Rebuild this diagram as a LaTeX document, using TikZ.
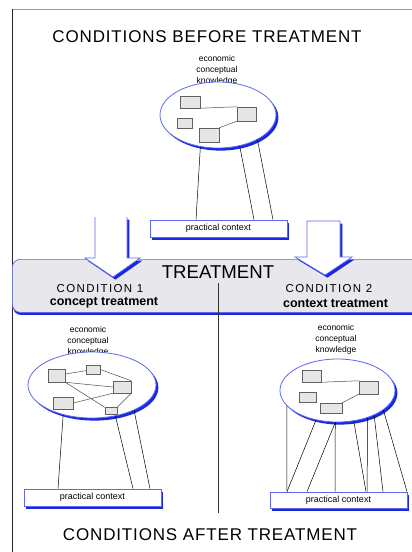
\documentclass[tikz,border=0pt]{standalone}
\usepackage{fontspec}
\setmainfont{Liberation Sans}
\newfontfamily\headfont[LetterSpace=5]{Liberation Sans}
\newfontfamily\condfont[LetterSpace=12]{Liberation Sans}
\usetikzlibrary{shapes.geometric,shadows}
\definecolor{rimblue}{RGB}{95,105,235}
\definecolor{shadeblue}{RGB}{25,40,225}
\definecolor{bandgray}{RGB}{232,231,236}
\definecolor{boxgray}{RGB}{230,230,230}
\begin{document}
\begin{tikzpicture}[
                        x=1pt, y=-1pt,
                        node distance=14pt,
                        blueshadow/.style={drop shadow={shadow xshift=2.4pt, shadow yshift=-2.6pt, fill=shadeblue, opacity=1}},
                        knowledge/.style={ellipse, draw=rimblue, fill=white, line width=0.8pt, inner sep=0pt, blueshadow},
                        concept/.style={rectangle, draw=gray!75!black, fill=boxgray, line width=0.5pt, inner sep=0pt},
                        ctxbox/.style={rectangle, draw=rimblue, fill=white, line width=0.7pt, inner sep=0pt, minimum width=137pt, font=\fontsize{9}{10}\selectfont, blueshadow},
                        knowtext/.style={align=center, inner sep=0pt, font=\fontsize{8.5}{10.8}\selectfont},
                        blockarrow/.style={draw=rimblue, fill=white, line width=0.7pt, line join=miter, blueshadow},
                        band/.style={rectangle, rounded corners=8pt, draw=rimblue, fill=bandgray, line width=0.7pt, inner sep=0pt, drop shadow={shadow xshift=0.8pt, shadow yshift=-2.6pt, fill=shadeblue, opacity=1}},
                        heading/.style={inner sep=0pt, font=\headfont\fontsize{17}{20}\selectfont},
                        condtitle/.style={inner sep=0pt, font=\condfont\fontsize{11.5}{13}\selectfont},
                        condsub/.style={inner sep=0pt, font=\bfseries\fontsize{12.5}{14}\selectfont},
                        link/.style={draw=black, line width=0.5pt},
                        tie/.style={draw=gray!60!black, line width=0.5pt}
                    ]
                    \clip (0,0) rectangle (412,552);
                    \fill[white] (0,0) rectangle (412,552);
                    % Frame
                    \draw[gray!80, line width=0.8pt] (12,9) -- (412,9);
                    \draw[black!85, line width=0.9pt] (12,9) -- (12,552);

                    % Before treatment
                    \node [heading] (before) at (207,37) {CONDITIONS BEFORE TREATMENT};
                    \node [knowtext] (kbtext) at (217,70.5) {economic\\conceptual\\knowledge};
                    \node [knowledge, minimum width=116pt, minimum height=66pt] (kb) at (218,115) {};
                    \node [concept, minimum width=20pt, minimum height=12pt] (b1) at (190,102) {};
                    \node [concept, minimum width=19pt, minimum height=14pt] (b2) at (246.5,114) {};
                    \node [concept, minimum width=15pt, minimum height=10pt] (b3) at (184.5,123) {};
                    \node [concept, minimum width=20pt, minimum height=14pt] (b4) at (209,135) {};
                    \node [ctxbox, minimum height=17pt] (cb) at (218.5,228.5) {practical context};

                    \draw [tie] (b1.south east) -- (b2.north west);
                    \draw [tie] (b4.north east) -- (b2.south west);
                    \draw [link] (kb.-119) -- ([xshift=-22.5pt]cb.north);
                    \draw [link] (kb.-55) -- ([xshift=35.5pt]cb.north);
                    \draw [link] (kb.-32) -- ([xshift=54.5pt]cb.north);

                    % Treatment
                    \node [band, anchor=north west, minimum width=420pt, minimum height=53pt] (treat) at (12,259) {};
                    \draw [blockarrow] (95,217) -- (95,258) -- (85,258) -- (113,277) -- (140,258) -- (127,258) -- (127,217);
                    \draw [blockarrow] (307,221) -- (307,257) -- (295,257) -- (325,275) -- (352,257) -- (340,257) -- (340,221) -- cycle;
                    \node [inner sep=0pt, font=\fontsize{18.6}{20}\selectfont] (treattext) at (218,272) {TREATMENT};
                    \node [condtitle] (cond1) at (100,289) {CONDITION 1};
                    \node [condsub, below of=cond1, xshift=4pt] (sub1) {concept treatment};
                    \node [condtitle] (cond2) at (329,289) {CONDITION 2};
                    \node [condsub, below of=cond2, xshift=6.5pt] (sub2) {context treatment};
                    \coordinate (divtop) at (218,283);
                    \coordinate (divbot) at (218,513);
                    \draw [black!80, line width=0.7pt] (divtop) -- (divbot);

                    % Condition 1
                    \node [knowtext] (katext) at (88,341) {economic\\conceptual\\knowledge};
                    \node [knowledge, minimum width=128pt, minimum height=66pt] (ka) at (92,385) {};
                    \node [concept, minimum width=17pt, minimum height=13pt] (a1) at (56.5,375.5) {};
                    \node [concept, minimum width=14pt, minimum height=9pt] (a2) at (93,369.5) {};
                    \node [concept, minimum width=18pt, minimum height=12pt] (a3) at (122,387) {};
                    \node [concept, minimum width=20pt, minimum height=12pt] (a4) at (63,403) {};
                    \node [concept, minimum width=12pt, minimum height=7pt] (a5) at (111,411) {};
                    \node [ctxbox, minimum height=17pt] (ca) at (92.5,497.5) {practical context};

                    \draw [tie] (a1) -- (a2);
                    \draw [tie] (a2.east) -- (a3.north east);
                    \draw [tie] (a1.south east) -- (a3.west);
                    \draw [tie] (a1.south east) -- (a5.north west);
                    \draw [tie] (a4.east) -- (a3.south west);
                    \draw [tie] (a3.south east) -- (a5.north east);
                    \draw [link] (ka.-134.6) -- ([xshift=-34.5pt]ca.north);
                    \draw [link] (ka.-53.3) -- ([xshift=40.5pt]ca.north);
                    \draw [link] (ka.-31.7) -- ([xshift=57.5pt]ca.north);

                    % Condition 2
                    \node [knowtext] (kctext) at (336,339.5) {economic\\conceptual\\knowledge};
                    \node [knowledge, minimum width=115pt, minimum height=63pt] (kc) at (337.5,390.5) {};
                    \node [concept, minimum width=19pt, minimum height=12pt] (c1) at (311.5,376) {};
                    \node [concept, minimum width=19pt, minimum height=13pt] (c2) at (368.5,387.5) {};
                    \node [concept, minimum width=17pt, minimum height=10pt] (c3) at (307.5,397) {};
                    \node [concept, minimum width=22pt, minimum height=10pt] (c4) at (331,408) {};
                    \node [ctxbox, minimum height=16pt] (cc) at (338.5,500) {practical context};

                    \draw [tie] (c1.south east) -- (c2.north west);
                    \draw [tie] (c4.north east) -- (c2.south west);
                    \foreach \a/\s in {-163.5/-51.5, -126.4/-51.5, -94.5/-31.5, -94.5/-3.5, -62.9/27.5, -42.5/28.5, -34.9/44.5, -23/68.5}
                        \draw [link] (kc.\a) -- ([xshift=\s pt]cc.north);

                    % After treatment
                    \node [heading] (after) at (210,535) {CONDITIONS AFTER TREATMENT};
                \end{tikzpicture}
\end{document}
